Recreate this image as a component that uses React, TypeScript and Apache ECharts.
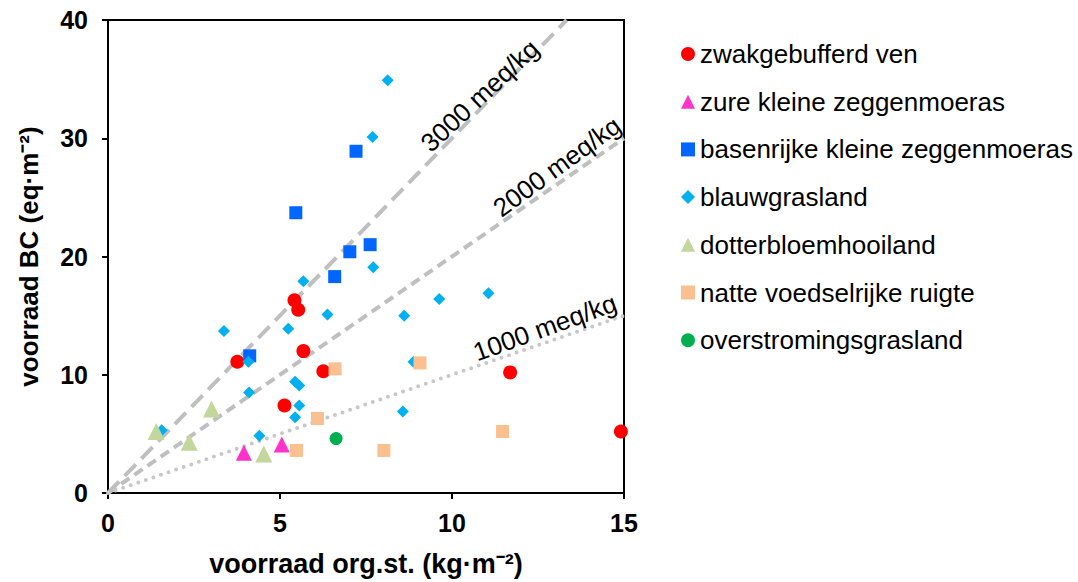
import React, { useEffect, useRef } from "react";
import * as echarts from "echarts";

const zwakgebufferdVen = [[5.42, 16.3], [5.53, 15.5], [5.68, 12.0], [3.76, 11.1], [6.26, 10.3], [5.13, 7.4], [11.69, 10.2], [14.91, 5.2]];
const zureKleine = [[3.95, 3.4], [5.05, 4.1]];
const basenrijke = [[4.12, 11.6], [5.46, 23.7], [6.59, 18.3], [7.03, 20.4], [7.21, 28.9], [7.62, 21.0]];
const blauwgrasland = [
  [5.68, 17.9], [3.37, 13.7], [5.24, 13.9], [6.38, 15.1], [4.08, 11.1], [4.10, 8.5],
  [5.44, 9.4], [5.56, 9.1], [5.56, 7.4], [5.44, 6.4], [4.40, 4.85], [1.56, 5.3],
  [7.71, 19.1], [8.13, 34.9], [7.69, 30.1], [9.63, 16.4], [11.06, 16.9], [8.61, 15.0],
  [8.88, 11.1], [8.57, 6.9],
];
const dotterbloem = [[1.40, 5.2], [3.01, 7.1], [2.36, 4.3], [4.53, 3.3]];
const natteRuigte = [[6.60, 10.5], [6.09, 6.3], [5.48, 3.6], [9.07, 11.0], [11.47, 5.2], [8.02, 3.6]];
const overstroming = [[6.63, 4.6]];

const line3000 = [[0, 0], [13.333, 40]];
const line2000 = [[0, 0], [15, 30]];
const line1000 = [[0, 0], [15, 15]];

const lineLabels = [
  { text: "3000 meq/kg", at: [10.81, 33.6], rot: 43 },
  { text: "2000 meq/kg", at: [13.05, 27.6], rot: 36 },
  { text: "1000 meq/kg", at: [12.7, 14.0], rot: 20 },
];

const xTicks = [0, 5, 10, 15];
const yTicks = [0, 10, 20, 30, 40];

const FONT = "'Liberation Sans', Arial, sans-serif";

export default function App() {
  const ref = useRef<HTMLDivElement>(null);
  useEffect(() => {
    const chart = echarts.init(ref.current!, null, { renderer: "svg" });
    const scatter = (name: string, data: number[][], symbol: string, size: number, color: string) => ({
      name,
      type: "scatter",
      data,
      symbol,
      symbolSize: size,
      itemStyle: { color, opacity: 1 },
      z: 3,
    });
    const refLine = (data: number[][], color: string, width: number, dash: any, cap: string) => ({
      type: "line",
      data,
      symbol: "none",
      silent: true,
      lineStyle: { color, width, type: dash, cap },
      z: 2,
    });
    chart.setOption({
      animation: false,
      grid: { left: 108, right: 454, top: 20, bottom: 86, show: true, borderColor: "#000", borderWidth: 2 },
      xAxis: {
        type: "value",
        min: xTicks[0],
        max: xTicks[xTicks.length - 1],
        interval: 5,
        name: "voorraad org.st. (kg·m⁻²)",
        nameLocation: "middle",
        nameGap: 57,
        nameTextStyle: { fontFamily: FONT, fontSize: 27, fontWeight: "bold", color: "#000" },
        axisLine: { lineStyle: { color: "#000", width: 2 } },
        axisTick: { show: true, length: 6, lineStyle: { color: "#000", width: 2 } },
        axisLabel: { fontFamily: FONT, fontSize: 25, fontWeight: "bold", color: "#000", margin: 17 },
        splitLine: { show: false },
      },
      yAxis: {
        type: "value",
        min: yTicks[0],
        max: yTicks[yTicks.length - 1],
        interval: 10,
        name: "voorraad BC (eq·m⁻²)",
        nameLocation: "middle",
        nameGap: 66,
        nameTextStyle: { fontFamily: FONT, fontSize: 26, fontWeight: "bold", color: "#000" },
        axisLine: { lineStyle: { color: "#000", width: 2 } },
        axisTick: { show: true, length: 6, lineStyle: { color: "#000", width: 2 } },
        axisLabel: { fontFamily: FONT, fontSize: 25, fontWeight: "bold", color: "#000", margin: 20 },
        splitLine: { show: false },
      },
      legend: {
        orient: "vertical",
        left: 676,
        top: 36,
        itemWidth: 14,
        itemHeight: 14,
        itemGap: 21.7,
        data: [
          "zwakgebufferd ven",
          "zure kleine zeggenmoeras",
          "basenrijke kleine zeggenmoeras",
          "blauwgrasland",
          "dotterbloemhooiland",
          "natte voedselrijke ruigte",
          "overstromingsgrasland",
        ],
        textStyle: { fontFamily: FONT, fontSize: 26, color: "#000", lineHeight: 26 },
      },
      series: [
        refLine(line3000, "#BFBFBF", 4, [16, 8], "butt"),
        refLine(line2000, "#BFBFBF", 4, [10, 6], "butt"),
        refLine(line1000, "#C8C8C8", 4, [0, 8], "round"),
        scatter("zwakgebufferd ven", zwakgebufferdVen, "circle", 14, "#FF0000"),
        scatter("zure kleine zeggenmoeras", zureKleine, "triangle", 16, "#FF33CC"),
        scatter("basenrijke kleine zeggenmoeras", basenrijke, "rect", 13, "#0066FF"),
        scatter("blauwgrasland", blauwgrasland, "diamond", 12, "#00B0F0"),
        scatter("dotterbloemhooiland", dotterbloem, "triangle", 17, "#C3D69B"),
        scatter("natte voedselrijke ruigte", natteRuigte, "rect", 13, "#FAC090"),
        scatter("overstromingsgrasland", overstroming, "circle", 13, "#00B050"),
      ],
    });
    const graphics = lineLabels.map((l) => {
      const p = chart.convertToPixel({ gridIndex: 0 }, l.at) as number[];
      return {
        type: "text",
        x: p[0],
        y: p[1],
        rotation: (l.rot * Math.PI) / 180,
        z: 10,
        style: {
          text: l.text,
          fontFamily: FONT,
          fontSize: 26,
          fill: "#000",
          align: "center",
          verticalAlign: "middle",
        },
      };
    });
    chart.setOption({ graphic: graphics });
    return () => chart.dispose();
  }, []);
  return <div ref={ref} style={{ position: "fixed", left: 0, top: 0, width: 1078, height: 582, background: "#fff" }} />;
}
